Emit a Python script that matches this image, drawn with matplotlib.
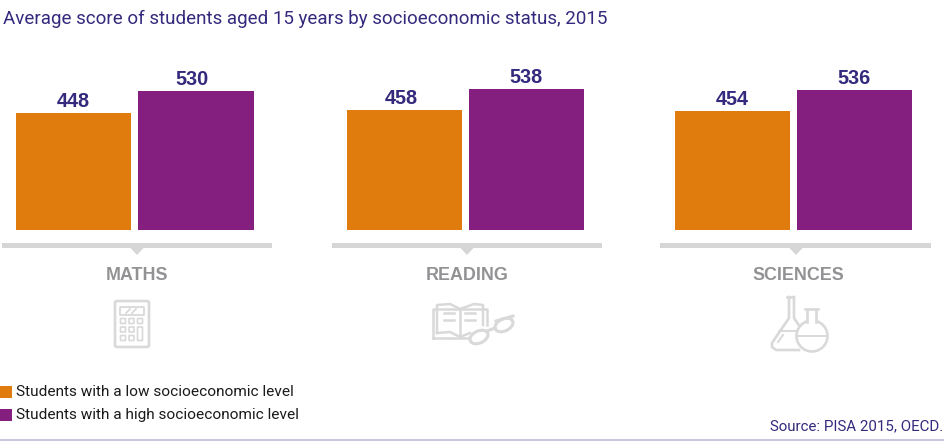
import matplotlib
matplotlib.use('Agg')
import matplotlib.pyplot as plt
import matplotlib.patches as patches

# Data
subjects = ['MATHS', 'READING', 'SCIENCES']
low_scores = [448, 458, 454]
high_scores = [530, 538, 536]
low_label = 'Students with a low socioeconomic level'
high_label = 'Students with a high socioeconomic level'
title = 'Average score of students aged 15 years by socioeconomic status, 2015'
source = 'Source: PISA 2015, OECD.'

orange = '#e07b0e'
purple = '#841f80'
navy = '#342a7d'
grey_text = '#929295'
grey_line = '#d6d6d7'
grey_icon = '#d9d9d9'

plt.rcParams['font.family'] = ['Roboto', 'DejaVu Sans']

fig = plt.figure(figsize=(9.45, 4.41), dpi=100)

# overlay in pixel coordinates for the decoration
bg = fig.add_axes([0, 0, 1, 1])
bg.set_xlim(0, 945)
bg.set_ylim(441, 0)
bg.axis('off')

# bars, baseline sits at y=230 px, 0.2615 px per score point
ax = fig.add_axes([0, (441 - 230) / 441, 1, 230 / 441])
ax.set_xlim(0, 945)
ax.set_ylim(0, 230 / 0.2615)
ax.axis('off')
ax.patch.set_alpha(0)

low_x = [73.5, 404.5, 732.5]
high_x = [196, 526.5, 854.5]
bar_w = 115.5

b1 = ax.bar(low_x, low_scores, width=bar_w, color=orange)
b2 = ax.bar(high_x, high_scores, width=bar_w, color=purple)
low_txt = ax.bar_label(b1, padding=1.5, fontsize=14.3, fontweight='bold', color=navy,
                       family='Liberation Sans')
high_txt = ax.bar_label(b2, padding=1.5, fontsize=14.3, fontweight='bold', color=navy,
                        family='Liberation Sans')
# two labels are not quite centred over their bars in the original
low_txt[1].xyann = (-2.2, low_txt[1].xyann[1])
high_txt[0].xyann = (-3, high_txt[0].xyann[1])

bg.text(3, 18.5, title, fontsize=13.52, color=navy, va='center', ha='left')

# baselines with the little notch and subject name
lines = [(2, 272), (332, 602), (660, 931)]
centers = [137, 467, 796]
for (x0, x1), c, name in zip(lines, centers, subjects):
    bg.add_patch(patches.Rectangle((x0, 242.5), x1 - x0, 5, color=grey_line, lw=0))
    bg.add_patch(patches.Polygon([(c - 7, 247.5), (c + 7, 247.5), (c, 255)], color=grey_line, lw=0))
    bg.text(c + 2 if name == 'SCIENCES' else c, 275.5, name, fontsize=12.9, fontweight='bold',
            color=grey_text, ha='center', va='center', family='Liberation Sans')


def outline(x, y, w, h, lw=1.4, r=1):
    bg.add_patch(patches.FancyBboxPatch((x + r, y + r), w - 2 * r, h - 2 * r,
                                        boxstyle='round,pad=%g,rounding_size=%g' % (r, r),
                                        fc='none', ec=grey_icon, lw=lw))


# calculator icon
outline(115, 301, 34, 46, lw=1.9, r=2)
outline(120, 307, 24, 8, lw=1.3, r=0.5)
bg.plot([126, 130], [313, 309], color=grey_icon, lw=1.3)
bg.plot([132, 136], [313, 309], color=grey_icon, lw=1.3)
for row in range(3):
    for col in range(3):
        if col == 2 and row > 0:
            continue
        outline(120.5 + col * 8.5, 318.5 + row * 8.5, 5, 5, lw=1.2, r=0.5)
outline(137.5, 327, 5, 13.5, lw=1.2, r=0.5)

# book and glasses icon
lw_book = 1.8
bg.plot([433, 433, 487, 487], [338, 309, 309, 325], color=grey_icon, lw=lw_book)
bg.plot([433, 470], [338, 338], color=grey_icon, lw=lw_book)
bg.plot([437, 437, 450, 460, 474, 483, 483], [333, 305, 304, 309, 304, 305, 325], color=grey_icon, lw=lw_book)
bg.plot([437, 450, 460, 470], [333, 332, 337, 333], color=grey_icon, lw=lw_book)
bg.plot([460, 460], [309, 337], color=grey_icon, lw=lw_book)
for y in (313, 320):
    bg.plot([444, 454], [y, y], color=grey_icon, lw=lw_book)
    bg.plot([465, 475], [y, y], color=grey_icon, lw=lw_book)
bg.add_patch(patches.Ellipse((479, 337), 19, 12, angle=-25, fc='white', ec=grey_icon, lw=2.2, zorder=3))
bg.add_patch(patches.Ellipse((504, 325), 19, 12, angle=-25, fc='white', ec=grey_icon, lw=2.2, zorder=3))
bg.plot([487, 495], [331, 328], color=grey_icon, lw=2.2, zorder=3)
bg.plot([496, 513], [321, 316], color=grey_icon, lw=2.2, zorder=3)

# flask icons
lw_flask = 1.9
bg.plot([787, 793], [297, 297], color=grey_icon, lw=lw_flask)
bg.plot([789, 789, 772, 772, 776, 799], [297, 318, 343, 347, 350, 350], color=grey_icon, lw=lw_flask)
bg.plot([794, 794, 802], [297, 318, 330], color=grey_icon, lw=lw_flask)
bg.plot([779, 801], [331, 331], color=grey_icon, lw=1.4)
bg.plot([778, 783], [342, 335], color=grey_icon, lw=1.4)
bg.add_patch(patches.Circle((812, 336), 15.5, fc='white', ec=grey_icon, lw=lw_flask, zorder=3))
bg.add_patch(patches.Rectangle((807, 309), 9, 14, fc='white', ec='none', zorder=4))
bg.plot([807, 807], [310, 322], color=grey_icon, lw=lw_flask, zorder=5)
bg.plot([816, 816], [310, 322], color=grey_icon, lw=lw_flask, zorder=5)
bg.plot([805, 818], [309, 309], color=grey_icon, lw=lw_flask, zorder=5)
bg.plot([797, 827], [336, 336], color=grey_icon, lw=1.4, zorder=5)

# legend
bg.add_patch(patches.Rectangle((0, 386), 12, 12, color=orange, lw=0))
bg.add_patch(patches.Rectangle((0, 408.5), 12, 12, color=purple, lw=0))
bg.text(16, 391.5, low_label, fontsize=11.05, color='#1a1a1a', va='center', ha='left')
bg.text(16, 414.5, high_label, fontsize=11.05, color='#1a1a1a', va='center', ha='left')

bg.text(943, 426, source, fontsize=10.9, color=navy, va='center', ha='right')

# bottom rule
bg.add_patch(patches.Rectangle((0, 439), 945, 2, color='#c9c6de', lw=0))

fig.savefig('out.png', dpi=100)
